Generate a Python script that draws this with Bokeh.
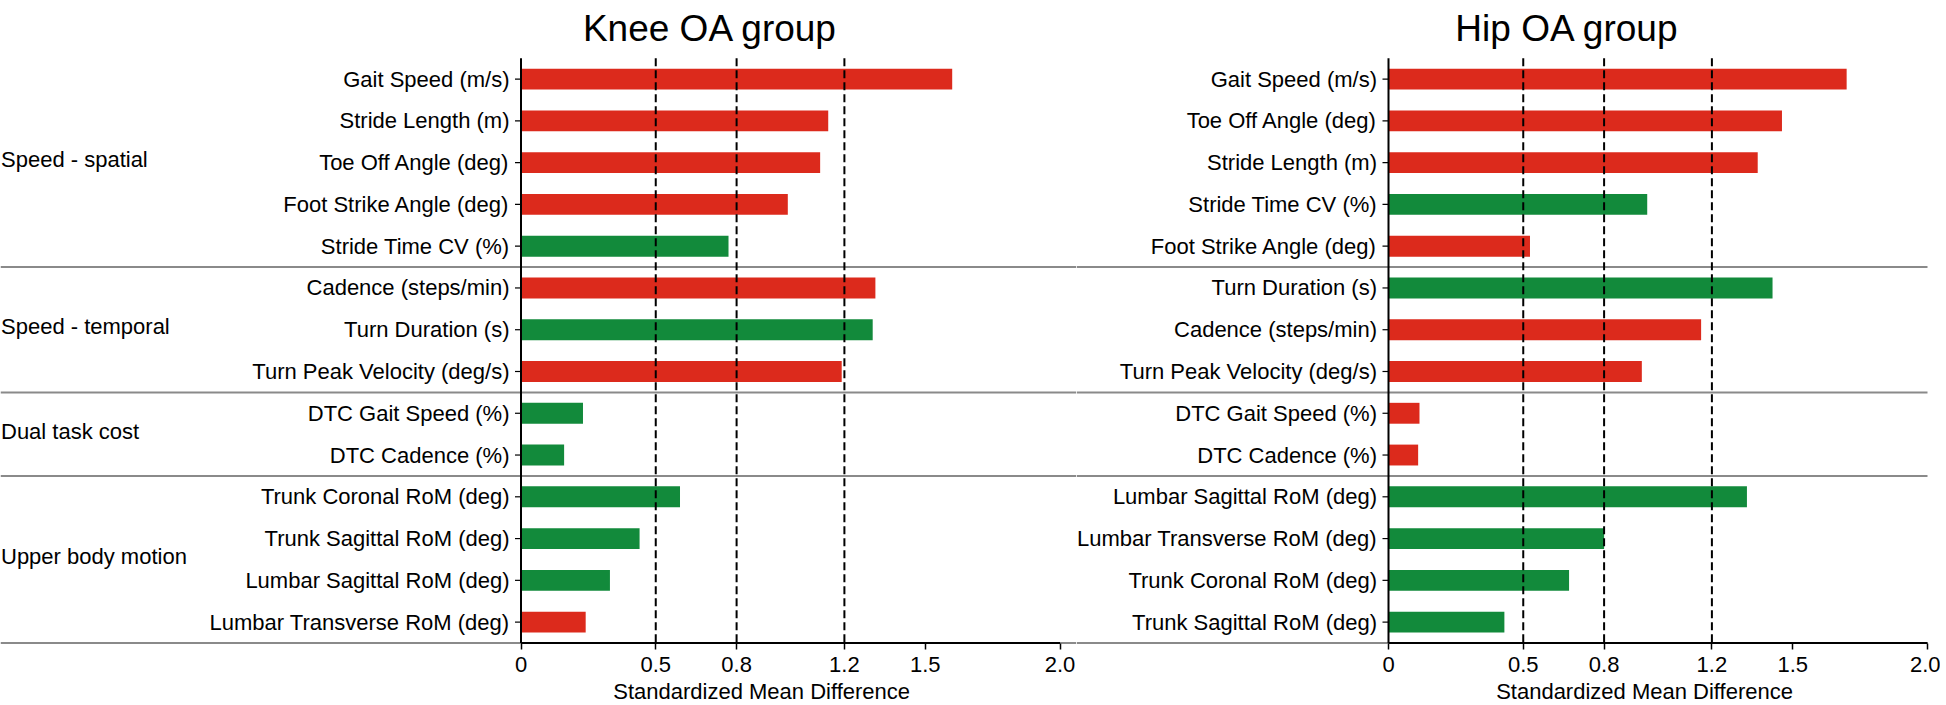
from bokeh.plotting import figure
from bokeh.layouts import row
from bokeh.models import Range1d, LinearAxis, FixedTicker, ColumnDataSource
from bokeh.core.properties import value
from bokeh.embed import file_html
from bokeh.resources import INLINE

# ---------------- data ----------------
KNEE_LABELS = ["Gait Speed (m/s)", "Stride Length (m)", "Toe Off Angle (deg)",
               "Foot Strike Angle (deg)", "Stride Time CV (%)",
               "Cadence (steps/min)", "Turn Duration (s)", "Turn Peak Velocity (deg/s)",
               "DTC Gait Speed (%)", "DTC Cadence (%)",
               "Trunk Coronal RoM (deg)", "Trunk Sagittal RoM (deg)",
               "Lumbar Sagittal RoM (deg)", "Lumbar Transverse RoM (deg)"]
KNEE_SMD = [1.60, 1.14, 1.11, 0.99, 0.77,
            1.315, 1.305, 1.19,
            0.23, 0.16,
            0.59, 0.44, 0.33, 0.24]
KNEE_DIR = ["decrease", "decrease", "decrease", "decrease", "increase",
            "decrease", "increase", "decrease",
            "increase", "increase",
            "increase", "increase", "increase", "decrease"]

HIP_LABELS = ["Gait Speed (m/s)", "Toe Off Angle (deg)", "Stride Length (m)",
              "Stride Time CV (%)", "Foot Strike Angle (deg)",
              "Turn Duration (s)", "Cadence (steps/min)", "Turn Peak Velocity (deg/s)",
              "DTC Gait Speed (%)", "DTC Cadence (%)",
              "Lumbar Sagittal RoM (deg)", "Lumbar Transverse RoM (deg)",
              "Trunk Coronal RoM (deg)", "Trunk Sagittal RoM (deg)"]
HIP_SMD = [1.70, 1.46, 1.37, 0.96, 0.525,
           1.425, 1.16, 0.94,
           0.115, 0.11,
           1.33, 0.80, 0.67, 0.43]
HIP_DIR = ["decrease", "decrease", "decrease", "increase", "decrease",
           "increase", "decrease", "decrease",
           "decrease", "decrease",
           "increase", "increase", "increase", "increase"]

GROUPS = ["Speed - spatial", "Speed - temporal", "Dual task cost", "Upper body motion"]
GROUP_SIZES = [5, 3, 2, 4]
TICKS = [0, 0.5, 0.8, 1.2, 1.5, 2.0]
TICK_LABELS = ["0", "0.5", "0.8", "1.2", "1.5", "2.0"]
THRESHOLDS = [0.5, 0.8, 1.2]
TITLES = ["Knee OA group", "Hip OA group"]
XLABEL = "Standardized Mean Difference"

# ---------------- style / geometry ----------------
COLORS = {"decrease": "#DC2A1C", "increase": "#128A3B"}
FONT = "Liberation Sans"
PX_PER_UNIT = 269.5
ROW_PX = 41.77
PLOT_H = 703
N = len(KNEE_LABELS)
AXIS_ROW = N - 0.5
AXIS_PAGE_Y = 642.5
Y_TOP = AXIS_ROW - AXIS_PAGE_Y / ROW_PX
Y_BOTTOM = AXIS_ROW + (PLOT_H - AXIS_PAGE_Y) / ROW_PX
TITLE_ROW = AXIS_ROW - (AXIS_PAGE_Y - 28) / ROW_PX
XLABEL_ROW = AXIS_ROW + (691 - AXIS_PAGE_Y) / ROW_PX

# group boundaries and label rows
bounds = []
acc = 0
group_rows = []
for s in GROUP_SIZES:
    group_rows.append(acc + (s - 1) / 2 - 0.07)
    acc += s
    bounds.append(acc - 0.5)


def make_panel(labels, smd, dirs, title, page_left, page_right, page_zero,
               title_x, xlabel_x, sep_to_edge, show_groups):
    width = page_right - page_left
    x0 = (page_left - page_zero) / PX_PER_UNIT
    x1 = (page_right - page_zero) / PX_PER_UNIT
    p = figure(width=width, height=PLOT_H,
               x_range=Range1d(x0, x1), y_range=Range1d(Y_BOTTOM, Y_TOP),
               x_axis_type=None, y_axis_type=None,
               output_backend="svg", toolbar_location=None,
               min_border_left=0, min_border_right=0, min_border_top=0,
               min_border_bottom=0, outline_line_color=None,
               background_fill_color="white", border_fill_color="white")

    # group separators
    sep_end = x1 if sep_to_edge else 2.0
    p.segment(x0=[x0] * len(bounds), x1=[sep_end] * len(bounds),
              y0=bounds, y1=bounds, line_color="#8a8a8a", line_width=2)

    rows = list(range(len(labels)))
    src = ColumnDataSource(dict(row=rows, smd=smd, label=labels,
                                color=[COLORS[d] for d in dirs]))
    p.hbar(y="row", left=0, right="smd", height=0.5, fill_color="color",
           line_color=None, source=src)

    # threshold dashed lines
    p.segment(x0=THRESHOLDS, x1=THRESHOLDS,
              y0=[-0.5] * len(THRESHOLDS), y1=[AXIS_ROW] * len(THRESHOLDS),
              line_color="black", line_width=2, line_dash="8 4")

    # axis lines
    p.segment(x0=[0], x1=[0], y0=[-0.5], y1=[AXIS_ROW], line_color="black", line_width=2)
    p.segment(x0=[0], x1=[2.0], y0=[AXIS_ROW], y1=[AXIS_ROW], line_color="black", line_width=2)
    tick_len = 6 / PX_PER_UNIT
    p.segment(x0=[-tick_len] * N, x1=[0] * N, y0=rows, y1=rows,
              line_color="black", line_width=1.2)

    # y labels
    p.text(x=-11.5 / PX_PER_UNIT, y="row", text="label", source=src,
           text_font=value(FONT), text_font_size=value("22px"),
           text_align="right", text_baseline="middle", text_color="black")

    # title
    p.text(x=[title_x], y=[TITLE_ROW], text=[title], text_font=value(FONT),
           text_font_size=value("37px"), text_align="center",
           text_baseline="alphabetic", text_color="black")

    # x axis title
    p.text(x=[xlabel_x], y=[XLABEL_ROW], text=[XLABEL], text_font=value(FONT),
           text_font_size=value("22px"), text_align="center",
           text_baseline="alphabetic", text_color="black")

    if show_groups:
        p.text(x=[x0 + 0.5 / PX_PER_UNIT] * len(GROUPS), y=group_rows, text=GROUPS,
               text_font=value(FONT), text_font_size=value("22px"),
               text_align="left", text_baseline="middle", text_color="black")

    xaxis = LinearAxis(fixed_location=AXIS_ROW, bounds=(0, 2.0),
                       ticker=FixedTicker(ticks=TICKS),
                       major_label_overrides=dict(zip(TICKS, TICK_LABELS)),
                       axis_line_color=None, major_tick_out=6, major_tick_in=0,
                       major_tick_line_color="black", major_tick_line_width=1.5,
                       minor_tick_line_color=None,
                       major_label_text_font=FONT, major_label_text_font_size="22px",
                       major_label_text_color="black", major_label_standoff=8)
    p.add_layout(xaxis, "below")
    return p


left = make_panel(KNEE_LABELS, KNEE_SMD, KNEE_DIR, TITLES[0],
                  page_left=0, page_right=1076, page_zero=520.5,
                  title_x=0.703, xlabel_x=0.893, sep_to_edge=True, show_groups=True)
right = make_panel(HIP_LABELS, HIP_SMD, HIP_DIR, TITLES[1],
                   page_left=1076, page_right=1940, page_zero=1388.0,
                   title_x=0.664, xlabel_x=0.95, sep_to_edge=False, show_groups=False)

layout = row(left, right)
open("out.html", "w").write(file_html(layout, INLINE))
